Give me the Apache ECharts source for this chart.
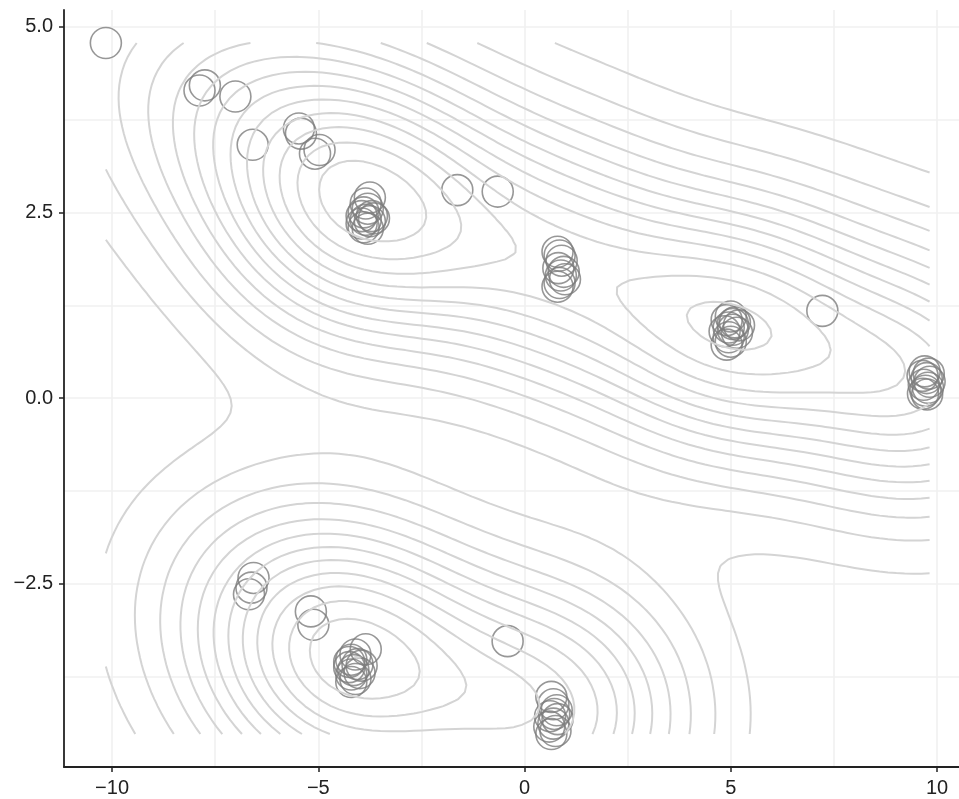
<!DOCTYPE html>
<html><head><meta charset="utf-8">
<script src="https://cdn.jsdelivr.net/npm/echarts@6/dist/echarts.min.js"></script>
<style>html,body{margin:0;padding:0;background:#fff}#c{width:959px;height:799px}</style>
</head><body><div id="c"></div>
<script>
// ---- data ----
const pointsX = [
  -10.15, -7.88, -7.75, -7.01, -6.59, -5.47, -5.42, -5.08, -4.97,
  -3.75, -3.85, -3.80, -3.90, -3.70, -3.85, -3.95, -3.75, -3.90, -3.80, -3.65, -3.95,
  -1.63, -0.65,
  0.80, 0.85, 0.90, 0.82, 0.95, 0.88, 0.98, 0.85, 0.80,
  5.00, 4.90, 5.10, 5.20, 4.95, 5.05, 4.85, 5.15, 4.95, 5.00, 4.90, 5.05,
  7.22,
  9.70, 9.80, 9.65, 9.75, 9.82, 9.68, 9.78, 9.72, 9.66, 9.76,
  -6.57, -6.62, -6.68, -5.18, -5.12,
  -3.85, -4.10, -4.20, -4.05, -4.25, -3.95, -4.15, -4.20, -4.10, -4.20, -4.00, -4.25,
  -0.41,
  0.65, 0.70, 0.78, 0.62, 0.80, 0.70, 0.60, 0.75, 0.65, 0.72
];
const pointsY = [
  4.78, 4.14, 4.21, 4.06, 3.41, 3.63, 3.56, 3.29, 3.34,
  2.70, 2.62, 2.55, 2.50, 2.45, 2.40, 2.35, 2.38, 2.30, 2.28, 2.42, 2.45,
  2.80, 2.78,
  1.97, 1.92, 1.85, 1.75, 1.70, 1.65, 1.60, 1.55, 1.50,
  1.10, 1.05, 1.02, 0.98, 0.95, 0.92, 0.90, 0.88, 0.82, 0.76, 0.72, 1.00,
  1.175,
  0.36, 0.33, 0.30, 0.27, 0.22, 0.18, 0.14, 0.10, 0.06, 0.05,
  -2.42, -2.55, -2.64, -2.87, -3.05,
  -3.38, -3.45, -3.52, -3.58, -3.62, -3.60, -3.66, -3.72, -3.78, -3.82, -3.70, -3.55,
  -3.27,
  -4.02, -4.12, -4.20, -4.28, -4.32, -4.38, -4.42, -4.48, -4.52, -4.25
];
const xTicks = [-10, -5, 0, 5, 10];
const xMinorTicks = [-7.5, -2.5, 2.5, 7.5];
const yTicks = [-2.5, 0, 2.5, 5];
const yMinorTicks = [-3.75, -1.25, 1.25, 3.75];
const xRange = [-11.165, 10.533];
const yRange = [-4.964, 5.224];
const contourBins = 14;

// ---- 2D kernel density (as MASS::kde2d / ggplot geom_density_2d) ----
function sd(v){const m=v.reduce((a,b)=>a+b,0)/v.length;return Math.sqrt(v.reduce((a,b)=>a+(b-m)*(b-m),0)/(v.length-1));}
function quantile(v,p){const s=[...v].sort((a,b)=>a-b);const h=(s.length-1)*p;const lo=Math.floor(h);return lo+1<s.length?s[lo]+(h-lo)*(s[lo+1]-s[lo]):s[lo];}
function bwNrd(v){const r=quantile(v,.75)-quantile(v,.25);return 4*1.06*Math.min(sd(v),r/1.34)*Math.pow(v.length,-0.2);}
const NG=100;
const xmin=Math.min(...pointsX), xmax=Math.max(...pointsX), ymin=Math.min(...pointsY), ymax=Math.max(...pointsY);
const gx=[],gy=[];for(let i=0;i<NG;i++){gx.push(xmin+(xmax-xmin)*i/(NG-1));gy.push(ymin+(ymax-ymin)*i/(NG-1));}
const hx=bwNrd(pointsX)/4, hy=bwNrd(pointsY)/4, N=pointsX.length;
const phi=t=>Math.exp(-0.5*t*t)/Math.sqrt(2*Math.PI);
const Z=[];let zmin=Infinity,zmax=-Infinity;
for(let i=0;i<NG;i++){Z.push([]);for(let j=0;j<NG;j++){let s=0;for(let k=0;k<N;k++)s+=phi((gx[i]-pointsX[k])/hx)*phi((gy[j]-pointsY[k])/hy);s/=N*hx*hy;Z[i].push(s);if(s<zmin)zmin=s;if(s>zmax)zmax=s;}}
const binwidth=zmax/contourBins;
const levels=[];for(let k=1;k*binwidth<zmax;k++)if(k*binwidth>zmin)levels.push(k*binwidth);

function isolines(level){
  const pts=new Map(), adj=new Map();
  const ep=(key)=>{if(pts.has(key))return;const t=key[0],[i,j]=key.slice(1).split('_').map(Number);
    let a,b,p0,p1;if(t==='h'){a=Z[i][j];b=Z[i+1][j];p0=[gx[i],gy[j]];p1=[gx[i+1],gy[j]];}else{a=Z[i][j];b=Z[i][j+1];p0=[gx[i],gy[j]];p1=[gx[i],gy[j+1]];}
    const f=(level-a)/(b-a);pts.set(key,[p0[0]+f*(p1[0]-p0[0]),p0[1]+f*(p1[1]-p0[1])]);};
  const link=(k1,k2)=>{ep(k1);ep(k2);if(!adj.has(k1))adj.set(k1,[]);if(!adj.has(k2))adj.set(k2,[]);adj.get(k1).push(k2);adj.get(k2).push(k1);};
  for(let i=0;i<NG-1;i++)for(let j=0;j<NG-1;j++){
    const a=Z[i][j],b=Z[i+1][j],c=Z[i+1][j+1],d=Z[i][j+1];
    const code=(a>=level?1:0)|(b>=level?2:0)|(c>=level?4:0)|(d>=level?8:0);
    if(code===0||code===15)continue;
    const e0='h'+i+'_'+j,e1='v'+(i+1)+'_'+j,e2='h'+i+'_'+(j+1),e3='v'+i+'_'+j;
    const cen=(a+b+c+d)/4>=level;
    switch(code){
      case 1:case 14:link(e3,e0);break;
      case 2:case 13:link(e0,e1);break;
      case 3:case 12:link(e3,e1);break;
      case 4:case 11:link(e1,e2);break;
      case 6:case 9:link(e0,e2);break;
      case 7:case 8:link(e3,e2);break;
      case 5:if(cen){link(e0,e1);link(e2,e3);}else{link(e3,e0);link(e1,e2);}break;
      case 10:if(cen){link(e3,e0);link(e1,e2);}else{link(e0,e1);link(e2,e3);}break;
    }
  }
  const used=new Set(),lines=[];
  const trace=(start)=>{const path=[start];used.add(start);let prev=null,cur=start;
    while(true){const nb=adj.get(cur).find(k=>k!==prev&&!used.has(k));if(!nb)break;path.push(nb);used.add(nb);prev=cur;cur=nb;}
    if(path.length>2&&adj.get(cur).includes(start))path.push(start);
    return path.map(k=>pts.get(k));};
  for(const [k,v] of adj)if(v.length===1&&!used.has(k))lines.push(trace(k));
  for(const [k] of adj)if(!used.has(k))lines.push(trace(k));
  return lines;
}
const contourData=[];
levels.forEach(l=>isolines(l).forEach(c=>contourData.push({coords:c})));

const fmt=v=>{const s=Math.abs(v)<1e-9?'0':String(v);return s.replace('-','\u2212');};
const fmtY=v=>{const s=(Math.abs(v)<1e-9?0:v).toFixed(1);return s.replace('-','\u2212');};
const axisColor='#222';
const gridColor='#f0f0f0';
const font={fontFamily:'Liberation Sans, Arial, sans-serif',fontSize:20,color:'#222'};

const chart=echarts.init(document.getElementById('c'),null,{renderer:'canvas'});
chart.setOption({
  animation:false,
  backgroundColor:'#fff',
  grid:{left:64,right:0,top:10,bottom:32,containLabel:false},
  xAxis:[
    {type:'value',min:xRange[0],max:xRange[1],
     axisLine:{show:true,onZero:false,lineStyle:{color:axisColor,width:1.8}},
     axisTick:{show:true,length:5,customValues:xTicks,lineStyle:{color:axisColor,width:1.5}},
     axisLabel:{show:true,customValues:xTicks,formatter:fmt,margin:11,...font},
     splitLine:{show:true,lineStyle:{color:gridColor,width:1.6}}},
    {type:'value',min:xRange[0],max:xRange[1],position:'bottom',
     axisLine:{show:false},axisTick:{show:false,customValues:xMinorTicks},axisLabel:{show:false,customValues:xMinorTicks},
     splitLine:{show:true,lineStyle:{color:gridColor,width:1.6}}}
  ],
  yAxis:[
    {type:'value',min:yRange[0],max:yRange[1],
     axisLine:{show:true,onZero:false,lineStyle:{color:axisColor,width:1.8}},
     axisTick:{show:true,length:5,customValues:yTicks,lineStyle:{color:axisColor,width:1.5}},
     axisLabel:{show:true,customValues:yTicks,formatter:fmtY,margin:11,...font},
     splitLine:{show:true,lineStyle:{color:gridColor,width:1.6}}},
    {type:'value',min:yRange[0],max:yRange[1],position:'left',
     axisLine:{show:false},axisTick:{show:false,customValues:yMinorTicks},axisLabel:{show:false,customValues:yMinorTicks},
     splitLine:{show:true,lineStyle:{color:gridColor,width:1.6}}}
  ],
  series:[
    {type:'scatter',xAxisIndex:0,yAxisIndex:0,symbol:'circle',symbolSize:31,silent:true,z:3,
     itemStyle:{color:'rgba(0,0,0,0)',borderColor:'#7d7d7d',borderWidth:1.6},
     data:pointsX.map((x,i)=>[x,pointsY[i]])},
    {type:'lines',coordinateSystem:'cartesian2d',xAxisIndex:0,yAxisIndex:0,polyline:true,silent:true,z:4,
     lineStyle:{color:'#d4d4d4',width:2,opacity:1},
     data:contourData}
  ]
});
</script></body></html>
